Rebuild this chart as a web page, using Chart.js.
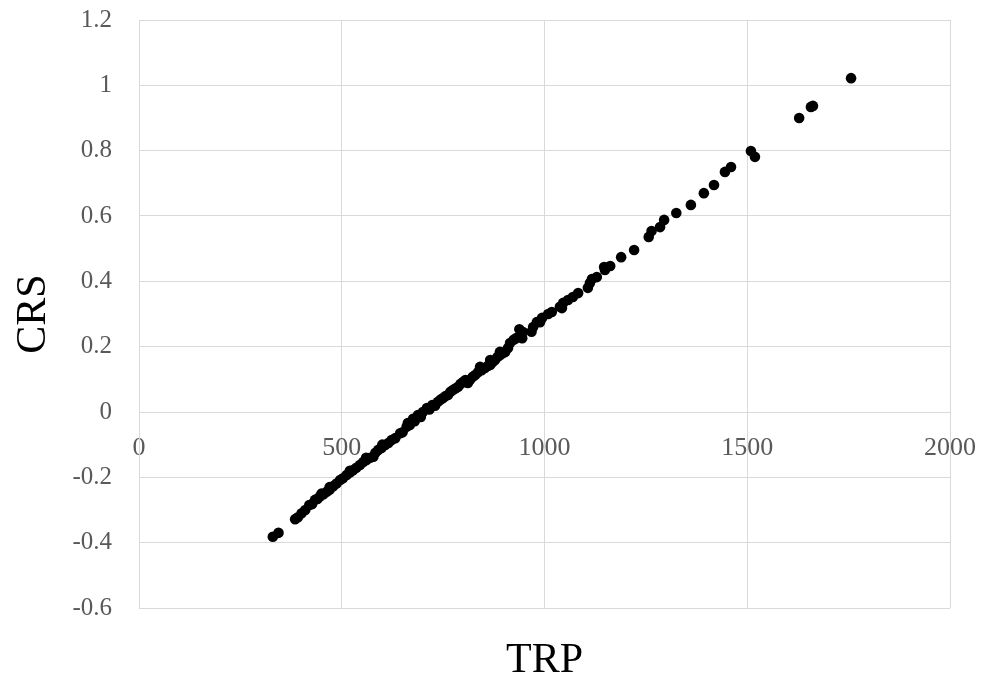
<!DOCTYPE html>
<html>
<head>
<meta charset="utf-8">
<script src="https://cdn.jsdelivr.net/npm/chart.js@4"></script>
<style>
html,body{margin:0;padding:0;background:#fff}
#wrap{width:983px;height:677px}
</style>
</head>
<body>
<div id="wrap"><canvas id="myChart" width="983" height="677"></canvas></div>
<script>
'use strict'
// TRP values (x) and CRS values (y)
let trp=[330,344,385,392,401,410,420,427,434,440,446,450,455,463,470,470,479,487,496,503,512,520,520,528,536,545,553,561,560,570,578,583,590,598,600,607,615,623,632,644,650,660,663,668,676,680,688,695,700,710,716,723,730,737,744,750,756,762,768,774,780,787,793,799,805,811,816,823,829,836,841,845,853,860,866,866,872,878,884,890,890,897,903,910,915,924,930,938,945,947,968,972,981,989,994,1009,1018,1038,1043,1046,1058,1070,1083,1107,1112,1117,1129,1147,1149,1162,1189,1221,1257,1264,1285,1295,1325,1361,1393,1418,1445,1460,1509,1519,1628,1657,1662,1756]
let crs=[-0.382,-0.370,-0.328,-0.322,-0.310,-0.300,-0.285,-0.282,-0.269,-0.266,-0.259,-0.250,-0.252,-0.244,-0.238,-0.230,-0.227,-0.219,-0.208,-0.203,-0.193,-0.185,-0.180,-0.178,-0.171,-0.162,-0.153,-0.147,-0.140,-0.140,-0.137,-0.125,-0.116,-0.110,-0.100,-0.101,-0.095,-0.086,-0.080,-0.065,-0.062,-0.045,-0.034,-0.040,-0.021,-0.028,-0.009,-0.015,0.000,0.012,0.008,0.021,0.019,0.031,0.038,0.043,0.049,0.052,0.062,0.067,0.072,0.077,0.086,0.092,0.098,0.089,0.098,0.108,0.113,0.122,0.138,0.128,0.135,0.141,0.144,0.159,0.152,0.159,0.168,0.174,0.184,0.180,0.184,0.196,0.211,0.221,0.226,0.253,0.226,0.245,0.246,0.260,0.275,0.275,0.288,0.300,0.306,0.322,0.318,0.334,0.343,0.352,0.364,0.380,0.395,0.407,0.413,0.444,0.435,0.447,0.474,0.496,0.536,0.554,0.566,0.588,0.609,0.634,0.670,0.695,0.735,0.750,0.799,0.781,0.900,0.934,0.937,1.022]

let xTicks=[0,500,1000,1500,2000]
let xTickLabels=['0','500','1000','1500','2000']
let yTicks=[-0.6,-0.4,-0.2,0,0.2,0.4,0.6,0.8,1,1.2]
let yTickLabels=['-0.6','-0.4','-0.2','0','0.2','0.4','0.6','0.8','1','1.2']

let points=[]
for(let i=0;i<trp.length;i++){
  points.push({x:trp[i],y:crs[i]})
}

function labelFor(ticks,labels,v){
  for(let i=0;i<ticks.length;i++){
    if(Math.abs(ticks[i]-v)<1e-6) return labels[i]
  }
  return ''
}

let serif='"Liberation Serif", "Times New Roman", serif'
let gridColor='#d9d9d9'

let ctx=document.getElementById('myChart').getContext('2d')
let myChart=new Chart(ctx,{
  type:'scatter',
  data:{
    datasets:[{
      label:'CRS',
      data:points,
      backgroundColor:'#000000',
      borderWidth:0,
      pointRadius:5.3
    }]
  },
  options:{
    responsive:false,
    animation:false,
    layout:{padding:{left:0,right:33,top:20,bottom:0}},
    plugins:{legend:{display:false},tooltip:{enabled:false}},
    scales:{
      x:{
        type:'linear',
        position:{y:0},
        min:0,max:2000,
        afterBuildTicks:function(s){s.ticks=xTicks.map(v=>({value:v}))},
        afterFit:function(s){s.paddingLeft=0;s.paddingRight=0},
        ticks:{
          padding:21,
          color:'#595959',
          font:{family:serif,size:26},
          maxRotation:0,
          callback:function(v){return labelFor(xTicks,xTickLabels,v)}
        },
        grid:{color:gridColor,drawTicks:false},
        border:{color:gridColor}
      },
      xt:{
        type:'linear',
        axis:'x',
        position:'bottom',
        min:0,max:2000,
        ticks:{display:false},
        grid:{display:false,drawTicks:false},
        border:{display:false},
        title:{display:true,text:'TRP',color:'#000000',font:{family:serif,size:42,lineHeight:1},padding:{top:32,bottom:-5}}
      },
      y:{
        type:'linear',
        position:'left',
        min:-0.6,max:1.2,
        afterBuildTicks:function(s){s.ticks=yTicks.map(v=>({value:v}))},
        afterFit:function(s){s.width=139;s.paddingTop=0;s.paddingBottom=0},
        ticks:{
          padding:27,
          color:'#595959',
          font:{family:serif,size:25},
          callback:function(v){return labelFor(yTicks,yTickLabels,v)}
        },
        grid:{color:gridColor,drawTicks:false},
        border:{color:gridColor},
        title:{display:true,text:'CRS',color:'#000000',font:{family:serif,size:42,lineHeight:1},padding:{top:13,bottom:0}}
      }
    }
  }
})
</script>
</body>
</html>
